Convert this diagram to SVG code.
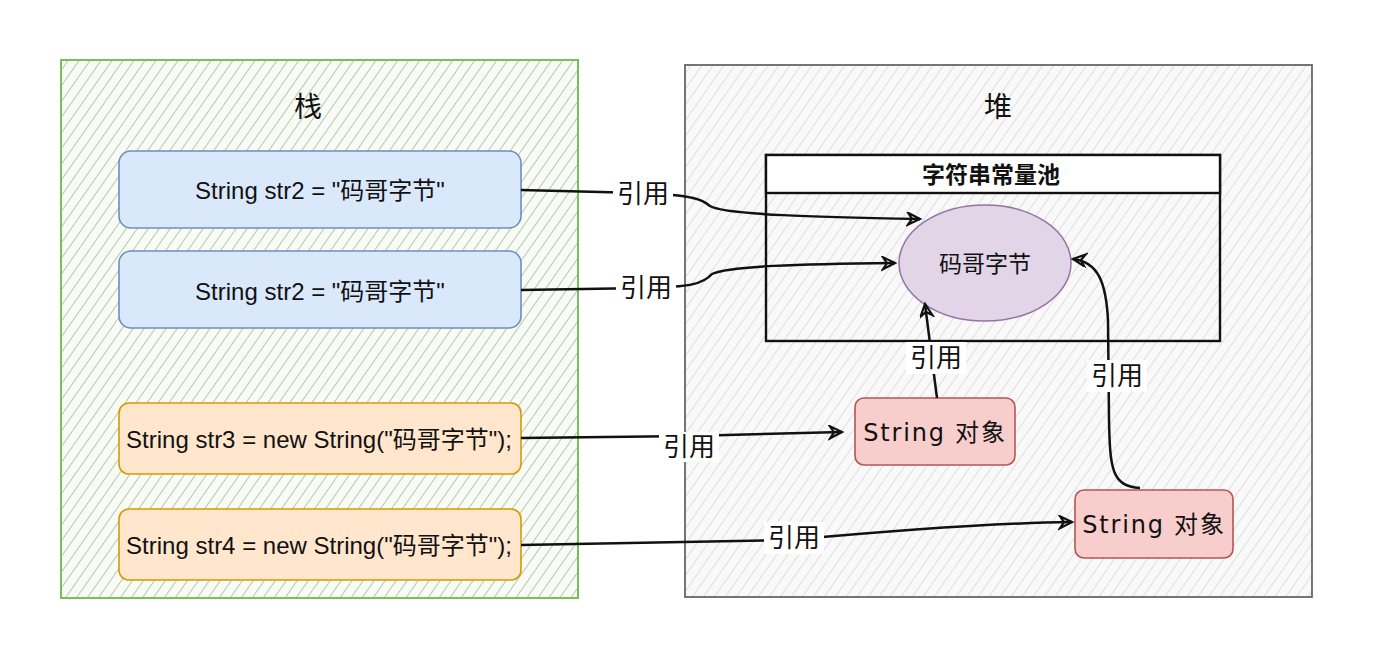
<svg xmlns="http://www.w3.org/2000/svg" width="1374" height="658" viewBox="0 0 1374 658">
<defs>
<pattern id="hatchG" patternUnits="userSpaceOnUse" width="9" height="9" patternTransform="rotate(35)">
<rect width="9" height="9" fill="#f8fbf6"/>
<line x1="0" y1="0" x2="0" y2="9" stroke="#a9c29f" stroke-width="1.7"/>
</pattern>
<pattern id="hatchH" patternUnits="userSpaceOnUse" width="9" height="9" patternTransform="rotate(35)">
<rect width="9" height="9" fill="#f9f9f9"/>
<line x1="0" y1="0" x2="0" y2="9" stroke="#d6d6d6" stroke-width="1.5"/>
</pattern>
<marker id="arr" markerUnits="userSpaceOnUse" markerWidth="20" markerHeight="20" refX="14" refY="7" orient="auto">
<path d="M2,1 L14,7 L2,13 L6,7 Z" fill="none" stroke="#111" stroke-width="2.2" stroke-linejoin="miter"/>
</marker>
</defs>
<style>
.t{font-family:"Liberation Sans","Noto Sans CJK SC",sans-serif;fill:#111;text-anchor:middle;dominant-baseline:central}
.box{font-size:24px}
.lbl{font-size:26px}
.ttl{font-size:28px}
.obj{font-family:"DejaVu Sans","Noto Sans CJK SC",sans-serif;font-size:24px;letter-spacing:1.8px;fill:#111;text-anchor:middle;dominant-baseline:central}
.edge{fill:none;stroke:#111;stroke-width:2.5}
.bg{fill:#ffffff}
</style>
<rect width="1374" height="658" fill="#ffffff"/>

<g id="stack">
<rect x="61" y="60" width="517" height="538" fill="url(#hatchG)" stroke="#7cbf5a" stroke-width="2"/>
<text class="t ttl" x="308" y="107">栈</text>
</g>
<g id="heap">
<rect x="685" y="65" width="627" height="532" fill="url(#hatchH)" stroke="#666" stroke-width="1.8"/>
<text class="t ttl" x="998" y="107">堆</text>
</g>
<g id="pool">
<rect x="766" y="155" width="454" height="186" fill="none" stroke="#111" stroke-width="2.4"/>
<rect x="766" y="155" width="454" height="38" fill="#ffffff" stroke="#111" stroke-width="2.4"/>
<text class="t" x="991" y="175" font-size="23" font-weight="bold">字符串常量池</text>
</g>
<g id="literal">
<ellipse cx="985" cy="263" rx="86" ry="58" fill="#e1d5e7" stroke="#9673a6" stroke-width="1.5"/>
<text class="t" x="985" y="264" font-size="23">码哥字节</text>
</g>
<g id="str2a">
<rect x="119" y="151" width="402" height="77" rx="12" fill="#dae8fc" stroke="#6c8ebf" stroke-width="1.6"/>
<text class="t box" x="320" y="190">String str2 = "码哥字节"</text>
</g>
<g id="str2b">
<rect x="119" y="251" width="402" height="77" rx="12" fill="#dae8fc" stroke="#6c8ebf" stroke-width="1.6"/>
<text class="t box" x="320" y="291">String str2 = "码哥字节"</text>
</g>
<g id="str3">
<rect x="119" y="403" width="402" height="71" rx="10" fill="#ffe6cc" stroke="#d79b00" stroke-width="1.6"/>
<text class="t box" x="319" y="439" font-size="25">String str3 = new String("码哥字节");</text>
</g>
<g id="str4">
<rect x="119" y="509" width="402" height="71" rx="10" fill="#ffe6cc" stroke="#d79b00" stroke-width="1.6"/>
<text class="t box" x="319" y="545" font-size="25">String str4 = new String("码哥字节");</text>
</g>
<g id="obj1">
<rect x="855" y="398" width="160" height="67" rx="9" fill="#f8cecc" stroke="#b85450" stroke-width="1.6"/>
<text class="obj" x="935" y="433">String 对象</text>
</g>
<g id="obj2">
<rect x="1075" y="490" width="158" height="68" rx="9" fill="#f8cecc" stroke="#b85450" stroke-width="1.6"/>
<text class="obj" x="1154" y="525">String 对象</text>
</g>

<g id="connectors">
<path class="edge" d="M521,190 L640,193 C695,195 703,200 710,206 C725,215 820,217 920,219" marker-end="url(#arr)"/>
<path class="edge" d="M521,290 L645,288 C690,287 703,284 712,274 C728,266 800,264 895,263" marker-end="url(#arr)"/>
<path class="edge" d="M521,438 L690,436 L842,432" marker-end="url(#arr)"/>
<path class="edge" d="M521,545 L790,540 C900,530 1000,523 1072,522" marker-end="url(#arr)"/>
<path class="edge" d="M937,398 L934,375 L925,304" marker-end="url(#arr)"/>
<path class="edge" d="M1140,488 C1112,486 1110,470 1109,420 L1108,320 C1106,282 1098,262 1073,259" marker-end="url(#arr)"/>

<rect class="bg" x="613" y="178" width="60" height="32"/>
<text class="t lbl" x="643" y="194">引用</text>
<rect class="bg" x="616" y="272" width="60" height="32"/>
<text class="t lbl" x="646" y="288">引用</text>
<rect class="bg" x="659" y="432" width="60" height="30"/>
<text class="t lbl" x="689" y="447">引用</text>
<rect class="bg" x="764" y="522" width="60" height="32"/>
<text class="t lbl" x="794" y="538">引用</text>
<rect class="bg" x="906" y="342" width="60" height="32"/>
<text class="t lbl" x="936" y="358">引用</text>
<rect class="bg" x="1087" y="360" width="60" height="32"/>
<text class="t lbl" x="1117" y="376">引用</text>
</g>
</svg>
